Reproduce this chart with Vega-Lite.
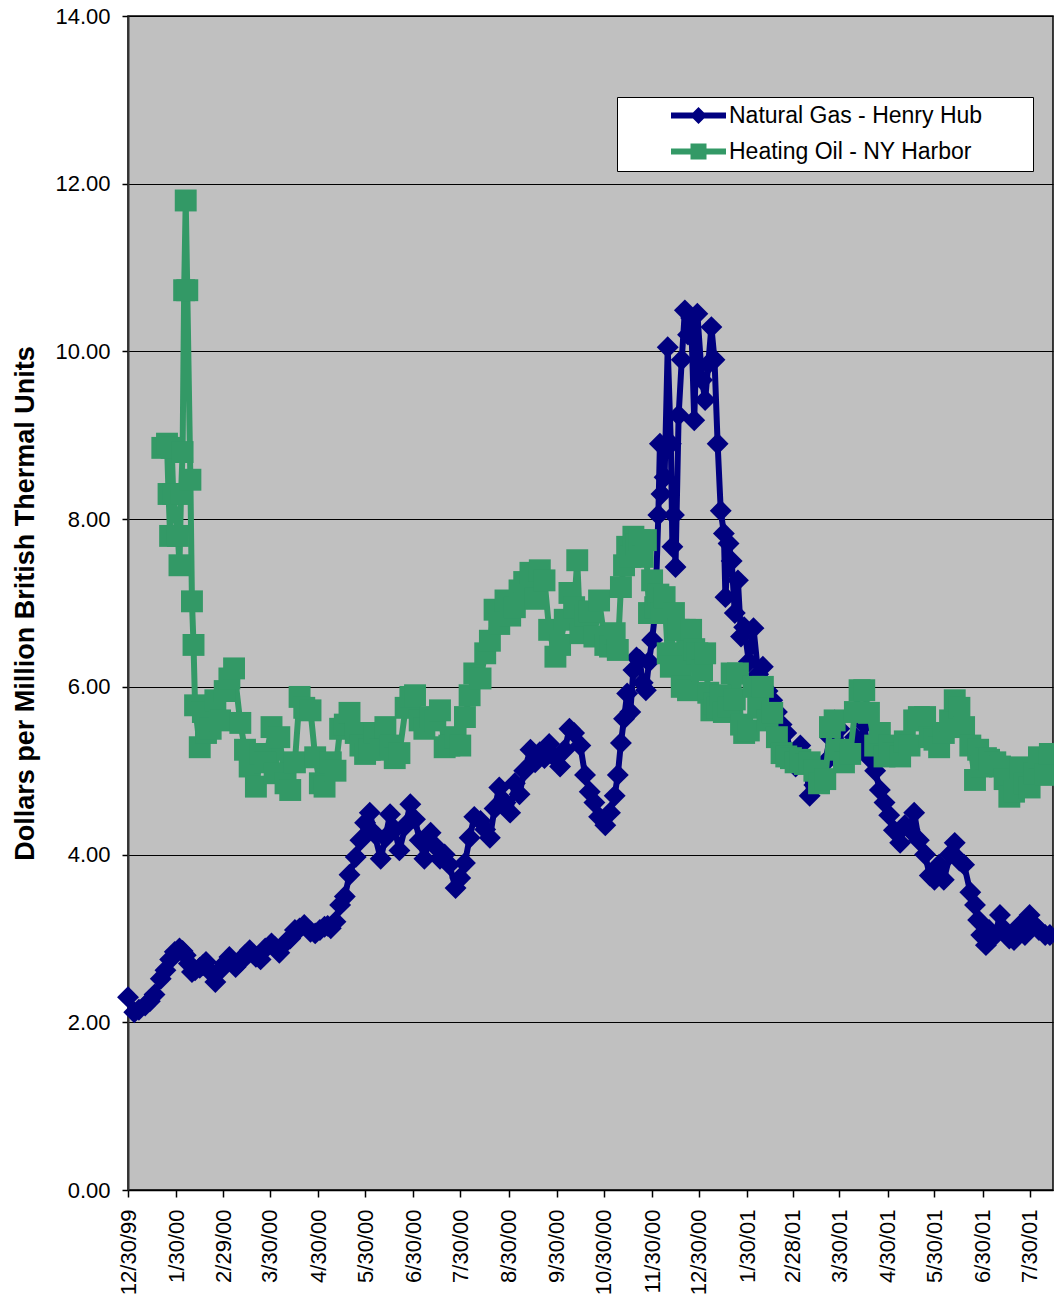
{
  "$schema": "https://vega.github.io/schema/vega-lite/v6.json",
  "width": 925,
  "height": 1174,
  "autosize": "none",
  "padding": {"left": 128, "top": 16, "right": 1, "bottom": 109},
  "background": "white",
  "config": {
    "font": "Liberation Sans",
    "view": {"fill": "#C0C0C0", "stroke": "black", "strokeWidth": 1.5}
  },
  "datasets": {
    "gas": [
      {"date": "1999/12/30", "price": 2.30}, {"date": "2000/01/03", "price": 2.12}, {"date": "2000/01/06", "price": 2.15},
      {"date": "2000/01/10", "price": 2.20}, {"date": "2000/01/13", "price": 2.25},
      {"date": "2000/01/16", "price": 2.33}, {"date": "2000/01/20", "price": 2.52}, {"date": "2000/01/23", "price": 2.62},
      {"date": "2000/01/26", "price": 2.75}, {"date": "2000/01/29", "price": 2.84}, {"date": "2000/02/01", "price": 2.88},
      {"date": "2000/02/03", "price": 2.85}, {"date": "2000/02/05", "price": 2.80}, {"date": "2000/02/07", "price": 2.70},
      {"date": "2000/02/09", "price": 2.60}, {"date": "2000/02/11", "price": 2.62}, {"date": "2000/02/14", "price": 2.65},
      {"date": "2000/02/16", "price": 2.68},
      {"date": "2000/02/18", "price": 2.72}, {"date": "2000/02/21", "price": 2.60}, {"date": "2000/02/24", "price": 2.48},
      {"date": "2000/02/27", "price": 2.62}, {"date": "2000/03/01", "price": 2.70}, {"date": "2000/03/04", "price": 2.78}, {"date": "2000/03/08", "price": 2.66},
      {"date": "2000/03/11", "price": 2.72}, {"date": "2000/03/14", "price": 2.80}, {"date": "2000/03/17", "price": 2.86}, {"date": "2000/03/21", "price": 2.78},
      {"date": "2000/03/24", "price": 2.75}, {"date": "2000/03/27", "price": 2.88}, {"date": "2000/03/31", "price": 2.94},
      {"date": "2000/04/02", "price": 2.90}, {"date": "2000/04/05", "price": 2.83}, {"date": "2000/04/09", "price": 2.95},
      {"date": "2000/04/12", "price": 3.00},
      {"date": "2000/04/15", "price": 3.10}, {"date": "2000/04/18", "price": 3.12}, {"date": "2000/04/21", "price": 3.16}, {"date": "2000/04/25", "price": 3.08},
      {"date": "2000/04/28", "price": 3.06}, {"date": "2000/05/01", "price": 3.10}, {"date": "2000/05/04", "price": 3.14}, {"date": "2000/05/06", "price": 3.15}, {"date": "2000/05/08", "price": 3.12},
      {"date": "2000/05/11", "price": 3.20}, {"date": "2000/05/14", "price": 3.40}, {"date": "2000/05/17", "price": 3.50},
      {"date": "2000/05/20", "price": 3.76}, {"date": "2000/05/24", "price": 3.97}, {"date": "2000/05/27", "price": 4.17},
      {"date": "2000/05/30", "price": 4.38}, {"date": "2000/06/02", "price": 4.50}, {"date": "2000/06/05", "price": 4.25},
      {"date": "2000/06/09", "price": 3.95}, {"date": "2000/06/12", "price": 4.20}, {"date": "2000/06/15", "price": 4.48},
      {"date": "2000/06/18", "price": 4.30}, {"date": "2000/06/21", "price": 4.05}, {"date": "2000/06/25", "price": 4.35},
      {"date": "2000/06/28", "price": 4.60}, {"date": "2000/07/01", "price": 4.42}, {"date": "2000/07/04", "price": 4.17},
      {"date": "2000/07/07", "price": 3.95}, {"date": "2000/07/11", "price": 4.26}, {"date": "2000/07/14", "price": 4.10},
      {"date": "2000/07/17", "price": 3.95}, {"date": "2000/07/20", "price": 4.00}, {"date": "2000/07/23", "price": 3.88},
      {"date": "2000/07/27", "price": 3.60}, {"date": "2000/07/30", "price": 3.72}, {"date": "2000/08/02", "price": 3.90},
      {"date": "2000/08/05", "price": 4.20}, {"date": "2000/08/08", "price": 4.45}, {"date": "2000/08/12", "price": 4.40},
      {"date": "2000/08/15", "price": 4.30}, {"date": "2000/08/18", "price": 4.20}, {"date": "2000/08/21", "price": 4.55},
      {"date": "2000/08/24", "price": 4.80}, {"date": "2000/08/28", "price": 4.62}, {"date": "2000/08/31", "price": 4.50},
      {"date": "2000/09/03", "price": 4.85}, {"date": "2000/09/06", "price": 4.72}, {"date": "2000/09/09", "price": 5.00},
      {"date": "2000/09/13", "price": 5.25}, {"date": "2000/09/16", "price": 5.10}, {"date": "2000/09/19", "price": 5.22},
      {"date": "2000/09/22", "price": 5.15}, {"date": "2000/09/25", "price": 5.32}, {"date": "2000/09/29", "price": 5.15},
      {"date": "2000/10/02", "price": 5.05}, {"date": "2000/10/05", "price": 5.25}, {"date": "2000/10/08", "price": 5.50},
      {"date": "2000/10/11", "price": 5.45}, {"date": "2000/10/15", "price": 5.30}, {"date": "2000/10/18", "price": 4.95},
      {"date": "2000/10/21", "price": 4.75}, {"date": "2000/10/24", "price": 4.62}, {"date": "2000/10/27", "price": 4.45},
      {"date": "2000/10/31", "price": 4.35}, {"date": "2000/11/03", "price": 4.50}, {"date": "2000/11/06", "price": 4.70},
      {"date": "2000/11/08", "price": 4.95}, {"date": "2000/11/10", "price": 5.33}, {"date": "2000/11/12", "price": 5.62},
      {"date": "2000/11/14", "price": 5.92}, {"date": "2000/11/16", "price": 5.70}, {"date": "2000/11/18", "price": 6.20},
      {"date": "2000/11/20", "price": 6.35}, {"date": "2000/11/22", "price": 6.32}, {"date": "2000/11/24", "price": 6.05},
      {"date": "2000/11/26", "price": 5.96}, {"date": "2000/11/28", "price": 6.30}, {"date": "2000/11/30", "price": 6.56},
      {"date": "2000/12/02", "price": 6.90}, {"date": "2000/12/04", "price": 8.05}, {"date": "2000/12/05", "price": 8.90},
      {"date": "2000/12/06", "price": 8.30}, {"date": "2000/12/08", "price": 8.50}, {"date": "2000/12/10", "price": 10.05},
      {"date": "2000/12/12", "price": 8.90}, {"date": "2000/12/13", "price": 7.67}, {"date": "2000/12/14", "price": 8.05},
      {"date": "2000/12/15", "price": 7.43}, {"date": "2000/12/17", "price": 9.24}, {"date": "2000/12/19", "price": 9.90},
      {"date": "2000/12/21", "price": 10.49}, {"date": "2000/12/23", "price": 10.20}, {"date": "2000/12/25", "price": 10.40},
      {"date": "2000/12/27", "price": 9.18}, {"date": "2000/12/29", "price": 10.45}, {"date": "2001/01/01", "price": 9.66},
      {"date": "2001/01/03", "price": 9.42}, {"date": "2001/01/05", "price": 9.85}, {"date": "2001/01/07", "price": 10.29},
      {"date": "2001/01/09", "price": 9.90}, {"date": "2001/01/11", "price": 8.90}, {"date": "2001/01/13", "price": 8.10},
      {"date": "2001/01/15", "price": 7.83}, {"date": "2001/01/16", "price": 7.07}, {"date": "2001/01/18", "price": 7.71},
      {"date": "2001/01/20", "price": 7.50}, {"date": "2001/01/22", "price": 6.88}, {"date": "2001/01/24", "price": 7.27},
      {"date": "2001/01/26", "price": 6.60}, {"date": "2001/01/28", "price": 6.71}, {"date": "2001/01/31", "price": 6.30},
      {"date": "2001/02/03", "price": 6.70}, {"date": "2001/02/06", "price": 6.15}, {"date": "2001/02/09", "price": 6.24},
      {"date": "2001/02/12", "price": 5.95}, {"date": "2001/02/15", "price": 5.84}, {"date": "2001/02/18", "price": 5.70},
      {"date": "2001/02/21", "price": 5.55}, {"date": "2001/02/24", "price": 5.45}, {"date": "2001/02/27", "price": 5.20},
      {"date": "2001/03/02", "price": 5.05}, {"date": "2001/03/05", "price": 5.30}, {"date": "2001/03/08", "price": 5.15},
      {"date": "2001/03/11", "price": 4.70}, {"date": "2001/03/14", "price": 4.83}, {"date": "2001/03/17", "price": 5.00},
      {"date": "2001/03/21", "price": 5.10}, {"date": "2001/03/24", "price": 5.40}, {"date": "2001/03/27", "price": 5.60},
      {"date": "2001/03/30", "price": 5.50}, {"date": "2001/04/02", "price": 5.15}, {"date": "2001/04/06", "price": 5.20},
      {"date": "2001/04/09", "price": 5.40}, {"date": "2001/04/12", "price": 5.30}, {"date": "2001/04/15", "price": 5.55},
      {"date": "2001/04/18", "price": 5.16}, {"date": "2001/04/22", "price": 5.00}, {"date": "2001/04/25", "price": 4.77},
      {"date": "2001/04/28", "price": 4.62}, {"date": "2001/05/01", "price": 4.47}, {"date": "2001/05/04", "price": 4.29},
      {"date": "2001/05/08", "price": 4.14}, {"date": "2001/05/11", "price": 4.35}, {"date": "2001/05/14", "price": 4.30},
      {"date": "2001/05/17", "price": 4.50}, {"date": "2001/05/20", "price": 4.17}, {"date": "2001/05/24", "price": 4.00},
      {"date": "2001/05/27", "price": 3.75}, {"date": "2001/05/30", "price": 3.70}, {"date": "2001/06/02", "price": 3.88},
      {"date": "2001/06/05", "price": 3.70}, {"date": "2001/06/09", "price": 4.00}, {"date": "2001/06/12", "price": 4.14},
      {"date": "2001/06/15", "price": 3.93}, {"date": "2001/06/18", "price": 3.88}, {"date": "2001/06/22", "price": 3.55},
      {"date": "2001/06/25", "price": 3.40}, {"date": "2001/06/27", "price": 3.22}, {"date": "2001/06/29", "price": 3.04},
      {"date": "2001/07/02", "price": 2.92}, {"date": "2001/07/04", "price": 3.10}, {"date": "2001/07/08", "price": 3.04},
      {"date": "2001/07/11", "price": 3.28}, {"date": "2001/07/14", "price": 3.10}, {"date": "2001/07/17", "price": 3.00},
      {"date": "2001/07/20", "price": 2.98}, {"date": "2001/07/24", "price": 3.16}, {"date": "2001/07/27", "price": 3.04},
      {"date": "2001/07/30", "price": 3.28}, {"date": "2001/08/02", "price": 3.16}, {"date": "2001/08/05", "price": 3.10},
      {"date": "2001/08/09", "price": 3.04}, {"date": "2001/08/12", "price": 3.04}
    ],
    "oil": [
      {"date": "2000/01/21", "price": 8.85}, {"date": "2000/01/24", "price": 8.90}, {"date": "2000/01/25", "price": 8.30},
      {"date": "2000/01/26", "price": 7.80}, {"date": "2000/01/27", "price": 8.85}, {"date": "2000/01/28", "price": 8.30},
      {"date": "2000/01/31", "price": 7.80}, {"date": "2000/02/01", "price": 7.45}, {"date": "2000/02/02", "price": 8.30},
      {"date": "2000/02/03", "price": 8.80}, {"date": "2000/02/04", "price": 10.73}, {"date": "2000/02/05", "price": 11.80},
      {"date": "2000/02/06", "price": 10.73}, {"date": "2000/02/08", "price": 8.47}, {"date": "2000/02/09", "price": 7.02},
      {"date": "2000/02/10", "price": 6.50}, {"date": "2000/02/11", "price": 5.78}, {"date": "2000/02/14", "price": 5.28},
      {"date": "2000/02/16", "price": 5.70}, {"date": "2000/02/18", "price": 5.45}, {"date": "2000/02/21", "price": 5.50},
      {"date": "2000/02/24", "price": 5.84}, {"date": "2000/02/27", "price": 5.60}, {"date": "2000/03/01", "price": 5.95},
      {"date": "2000/03/04", "price": 6.10}, {"date": "2000/03/07", "price": 6.22}, {"date": "2000/03/11", "price": 5.57},
      {"date": "2000/03/14", "price": 5.25}, {"date": "2000/03/17", "price": 5.05}, {"date": "2000/03/21", "price": 4.81},
      {"date": "2000/03/24", "price": 5.20}, {"date": "2000/03/27", "price": 5.10}, {"date": "2000/03/31", "price": 5.52},
      {"date": "2000/04/02", "price": 4.97}, {"date": "2000/04/05", "price": 5.40}, {"date": "2000/04/09", "price": 4.85},
      {"date": "2000/04/12", "price": 4.77}, {"date": "2000/04/15", "price": 5.10}, {"date": "2000/04/18", "price": 5.88},
      {"date": "2000/04/21", "price": 5.75}, {"date": "2000/04/25", "price": 5.72}, {"date": "2000/04/28", "price": 5.16},
      {"date": "2000/05/01", "price": 4.85}, {"date": "2000/05/04", "price": 4.81}, {"date": "2000/05/08", "price": 5.10},
      {"date": "2000/05/11", "price": 5.00}, {"date": "2000/05/14", "price": 5.50}, {"date": "2000/05/17", "price": 5.55},
      {"date": "2000/05/20", "price": 5.69}, {"date": "2000/05/24", "price": 5.45}, {"date": "2000/05/27", "price": 5.30},
      {"date": "2000/05/30", "price": 5.20}, {"date": "2000/06/02", "price": 5.25}, {"date": "2000/06/05", "price": 5.45},
      {"date": "2000/06/09", "price": 5.25}, {"date": "2000/06/12", "price": 5.52}, {"date": "2000/06/15", "price": 5.30},
      {"date": "2000/06/18", "price": 5.15}, {"date": "2000/06/21", "price": 5.21}, {"date": "2000/06/25", "price": 5.75},
      {"date": "2000/06/28", "price": 5.88}, {"date": "2000/07/01", "price": 5.90}, {"date": "2000/07/04", "price": 5.60},
      {"date": "2000/07/07", "price": 5.50}, {"date": "2000/07/11", "price": 5.64}, {"date": "2000/07/14", "price": 5.60},
      {"date": "2000/07/17", "price": 5.72}, {"date": "2000/07/20", "price": 5.28}, {"date": "2000/07/23", "price": 5.30},
      {"date": "2000/07/27", "price": 5.40}, {"date": "2000/07/30", "price": 5.30}, {"date": "2000/08/02", "price": 5.64},
      {"date": "2000/08/05", "price": 5.90}, {"date": "2000/08/08", "price": 6.16}, {"date": "2000/08/12", "price": 6.10},
      {"date": "2000/08/15", "price": 6.40}, {"date": "2000/08/18", "price": 6.55}, {"date": "2000/08/21", "price": 6.92},
      {"date": "2000/08/24", "price": 6.75}, {"date": "2000/08/28", "price": 7.03}, {"date": "2000/08/31", "price": 6.85},
      {"date": "2000/09/03", "price": 6.95}, {"date": "2000/09/06", "price": 7.15}, {"date": "2000/09/09", "price": 7.25},
      {"date": "2000/09/13", "price": 7.36}, {"date": "2000/09/16", "price": 7.05}, {"date": "2000/09/19", "price": 7.39},
      {"date": "2000/09/22", "price": 7.27}, {"date": "2000/09/25", "price": 6.68}, {"date": "2000/09/29", "price": 6.36},
      {"date": "2000/10/02", "price": 6.50}, {"date": "2000/10/05", "price": 6.80}, {"date": "2000/10/08", "price": 7.12},
      {"date": "2000/10/11", "price": 6.95}, {"date": "2000/10/13", "price": 7.51}, {"date": "2000/10/15", "price": 6.64},
      {"date": "2000/10/18", "price": 6.85}, {"date": "2000/10/21", "price": 6.90}, {"date": "2000/10/24", "price": 6.60},
      {"date": "2000/10/27", "price": 7.03}, {"date": "2000/10/31", "price": 6.50}, {"date": "2000/11/03", "price": 6.48},
      {"date": "2000/11/06", "price": 6.64}, {"date": "2000/11/08", "price": 6.44}, {"date": "2000/11/10", "price": 7.19},
      {"date": "2000/11/12", "price": 7.45}, {"date": "2000/11/14", "price": 7.67}, {"date": "2000/11/16", "price": 7.55},
      {"date": "2000/11/18", "price": 7.79}, {"date": "2000/11/20", "price": 7.70}, {"date": "2000/11/22", "price": 7.75},
      {"date": "2000/11/24", "price": 7.55}, {"date": "2000/11/26", "price": 7.75}, {"date": "2000/11/28", "price": 6.88},
      {"date": "2000/11/30", "price": 7.27}, {"date": "2000/12/02", "price": 6.95}, {"date": "2000/12/04", "price": 7.10},
      {"date": "2000/12/06", "price": 6.88}, {"date": "2000/12/08", "price": 7.07}, {"date": "2000/12/10", "price": 6.40},
      {"date": "2000/12/12", "price": 6.24}, {"date": "2000/12/14", "price": 6.88}, {"date": "2000/12/17", "price": 6.68},
      {"date": "2000/12/19", "price": 6.00}, {"date": "2000/12/21", "price": 6.68}, {"date": "2000/12/23", "price": 5.96},
      {"date": "2000/12/25", "price": 6.68}, {"date": "2000/12/27", "price": 6.45}, {"date": "2000/12/29", "price": 6.40},
      {"date": "2001/01/01", "price": 6.20}, {"date": "2001/01/03", "price": 6.40}, {"date": "2001/01/05", "price": 5.93},
      {"date": "2001/01/07", "price": 5.72}, {"date": "2001/01/09", "price": 5.80}, {"date": "2001/01/11", "price": 5.75},
      {"date": "2001/01/13", "price": 5.90}, {"date": "2001/01/15", "price": 5.70}, {"date": "2001/01/18", "price": 5.76},
      {"date": "2001/01/20", "price": 6.16}, {"date": "2001/01/22", "price": 5.85}, {"date": "2001/01/24", "price": 6.16},
      {"date": "2001/01/26", "price": 5.55}, {"date": "2001/01/28", "price": 5.45}, {"date": "2001/01/31", "price": 5.48},
      {"date": "2001/02/03", "price": 6.00}, {"date": "2001/02/06", "price": 5.75}, {"date": "2001/02/09", "price": 6.00},
      {"date": "2001/02/12", "price": 5.60}, {"date": "2001/02/15", "price": 5.69}, {"date": "2001/02/18", "price": 5.40},
      {"date": "2001/02/21", "price": 5.21}, {"date": "2001/02/24", "price": 5.17}, {"date": "2001/02/27", "price": 5.15},
      {"date": "2001/03/02", "price": 5.10}, {"date": "2001/03/05", "price": 5.13}, {"date": "2001/03/08", "price": 5.08},
      {"date": "2001/03/11", "price": 5.10}, {"date": "2001/03/14", "price": 5.00}, {"date": "2001/03/17", "price": 4.85},
      {"date": "2001/03/21", "price": 4.90}, {"date": "2001/03/24", "price": 5.52}, {"date": "2001/03/27", "price": 5.60},
      {"date": "2001/03/30", "price": 5.25}, {"date": "2001/04/02", "price": 5.10}, {"date": "2001/04/06", "price": 5.20},
      {"date": "2001/04/09", "price": 5.70}, {"date": "2001/04/12", "price": 5.96}, {"date": "2001/04/15", "price": 5.96},
      {"date": "2001/04/18", "price": 5.69}, {"date": "2001/04/22", "price": 5.30}, {"date": "2001/04/25", "price": 5.45},
      {"date": "2001/04/28", "price": 5.17}, {"date": "2001/05/01", "price": 5.30}, {"date": "2001/05/04", "price": 5.21},
      {"date": "2001/05/08", "price": 5.17}, {"date": "2001/05/11", "price": 5.35}, {"date": "2001/05/14", "price": 5.30},
      {"date": "2001/05/17", "price": 5.60}, {"date": "2001/05/20", "price": 5.64}, {"date": "2001/05/24", "price": 5.64},
      {"date": "2001/05/27", "price": 5.40}, {"date": "2001/05/30", "price": 5.37}, {"date": "2001/06/02", "price": 5.28},
      {"date": "2001/06/05", "price": 5.45}, {"date": "2001/06/09", "price": 5.60}, {"date": "2001/06/12", "price": 5.84},
      {"date": "2001/06/15", "price": 5.75}, {"date": "2001/06/18", "price": 5.52}, {"date": "2001/06/22", "price": 5.30},
      {"date": "2001/06/25", "price": 4.89}, {"date": "2001/06/27", "price": 5.25}, {"date": "2001/06/29", "price": 5.05},
      {"date": "2001/07/02", "price": 5.15}, {"date": "2001/07/04", "price": 5.13}, {"date": "2001/07/08", "price": 5.10},
      {"date": "2001/07/11", "price": 5.05}, {"date": "2001/07/14", "price": 4.90}, {"date": "2001/07/17", "price": 4.69},
      {"date": "2001/07/20", "price": 4.75}, {"date": "2001/07/24", "price": 5.04}, {"date": "2001/07/27", "price": 4.85},
      {"date": "2001/07/30", "price": 4.80}, {"date": "2001/08/02", "price": 4.97}, {"date": "2001/08/05", "price": 5.16},
      {"date": "2001/08/09", "price": 4.95}, {"date": "2001/08/12", "price": 5.20}
    ]
  },
  "encoding": {
    "x": {
      "field": "date",
      "type": "temporal",
      "scale": {"domain": [{"year": 1999, "month": 12, "date": 30}, {"year": 2001, "month": 8, "date": 14}]},
      "axis": {
        "title": null,
        "values": [
          {"year": 1999, "month": 12, "date": 30}, {"year": 2000, "month": 1, "date": 30}, {"year": 2000, "month": 2, "date": 29},
          {"year": 2000, "month": 3, "date": 30}, {"year": 2000, "month": 4, "date": 30}, {"year": 2000, "month": 5, "date": 30},
          {"year": 2000, "month": 6, "date": 30}, {"year": 2000, "month": 7, "date": 30}, {"year": 2000, "month": 8, "date": 30},
          {"year": 2000, "month": 9, "date": 30}, {"year": 2000, "month": 10, "date": 30}, {"year": 2000, "month": 11, "date": 30},
          {"year": 2000, "month": 12, "date": 30}, {"year": 2001, "month": 1, "date": 30}, {"year": 2001, "month": 2, "date": 28},
          {"year": 2001, "month": 3, "date": 30}, {"year": 2001, "month": 4, "date": 30}, {"year": 2001, "month": 5, "date": 30},
          {"year": 2001, "month": 6, "date": 30}, {"year": 2001, "month": 7, "date": 30}
        ],
        "format": "%-m/%d/%y",
        "labelAngle": 270,
        "labelFontSize": 22,
        "labelColor": "black",
        "labelPadding": 12,
        "tickSize": 7,
        "tickColor": "black",
        "tickWidth": 1.5,
        "domainColor": "black",
        "domainWidth": 1.5,
        "grid": false,
        "labelOverlap": false,
        "labelFlush": false
      }
    },
    "y": {
      "field": "price",
      "type": "quantitative",
      "scale": {"domain": [0, 14], "nice": false, "zero": true},
      "axis": {
        "title": "Dollars per Million British Thermal Units",
        "titleFontSize": 27,
        "titleFontWeight": "bold",
        "titleColor": "black",
        "titlePadding": 15,
        "values": [0, 2, 4, 6, 8, 10, 12, 14],
        "format": ".2f",
        "labelFontSize": 22,
        "labelColor": "black",
        "labelPadding": 12,
        "tickSize": 6,
        "tickColor": "black",
        "tickWidth": 1.5,
        "domainColor": "#333333",
        "domainWidth": 2,
        "grid": true,
        "gridColor": "black",
        "gridWidth": 1,
        "labelFlush": false
      }
    }
  },
  "layer": [
    {
      "data": {"name": "gas"},
      "mark": {"type": "line", "color": "#000080", "strokeWidth": 6, "strokeJoin": "round"}
    },
    {
      "data": {"name": "gas"},
      "mark": {"type": "point", "shape": "diamond", "filled": true, "size": 480, "opacity": 1, "strokeWidth": 0},
      "encoding": {
        "color": {
          "datum": "Natural Gas - Henry Hub",
          "scale": {"domain": ["Natural Gas - Henry Hub", "Heating Oil - NY Harbor"], "range": ["#000080", "#339966"]},
          "legend": {
            "title": "\u00a0",
            "titleOrient": "right",
            "titlePadding": 44,
            "titleFontSize": 23,
            "orient": "none",
            "legendX": 489,
            "legendY": 81,
            "padding": 7,
            "fillColor": "white",
            "strokeColor": "black",
            "labelFontSize": 23,
            "labelColor": "black",
            "labelLimit": 1000,
            "symbolSize": 400,
            "symbolOffset": 63,
            "labelOffset": 19,
            "rowPadding": 12,
            "encoding": {
              "symbols": {
                "shape": {"value": {"expr": "datum.value === 'Natural Gas - Henry Hub' ? 'M-2.75,-0.3L2.75,-0.3L2.75,0.3L-2.75,0.3Z M0,-0.85L0.85,0L0,0.85L-0.85,0Z' : 'M-2.75,-0.3L2.75,-0.3L2.75,0.3L-2.75,0.3Z M-0.8,-0.8L0.8,-0.8L0.8,0.8L-0.8,0.8Z'"}},
                "fill": {"value": {"expr": "datum.value === 'Natural Gas - Henry Hub' ? '#000080' : '#339966'"}},
                "stroke": {"value": "transparent"},
                "strokeWidth": {"value": 0},
                "opacity": {"value": 1}
              }
            }
          }
        }
      }
    },
    {
      "data": {"name": "oil"},
      "mark": {"type": "line", "color": "#339966", "strokeWidth": 6, "strokeJoin": "round"}
    },
    {
      "data": {"name": "oil"},
      "mark": {"type": "point", "shape": "square", "filled": true, "size": 480, "opacity": 1, "strokeWidth": 0},
      "encoding": {
        "color": {"datum": "Heating Oil - NY Harbor"}
      }
    },
    {
      "data": {"values": [{"note": "Source: Wall Street Journal, New York Times, wsj.com"}]},
      "mark": {"type": "text", "fontSize": 22, "color": "black", "align": "center", "baseline": "middle"},
      "encoding": {
        "x": {"datum": {"year": 2000, "month": 11, "date": 6}, "type": "temporal"},
        "y": {"datum": 1.25, "type": "quantitative"},
        "text": {"field": "note"}
      }
    }
  ]
}
